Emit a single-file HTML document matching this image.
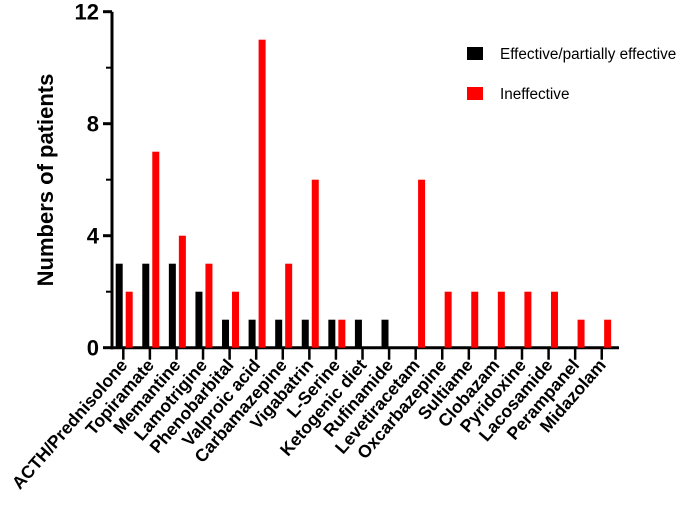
<!DOCTYPE html>
<html><head><meta charset="utf-8"><style>
body{margin:0;background:#fff;}
svg text{font-family:"Liberation Sans",Arial,sans-serif;}
</style></head><body>
<svg id="chart" width="685" height="500" viewBox="0 0 685 500" xmlns="http://www.w3.org/2000/svg">
<g id="plot"></g>
</svg>
<script>
const categories=["ACTH/Prednisolone","Topiramate","Memantine","Lamotrigine","Phenobarbital","Valproic acid","Carbamazepine","Vigabatrin","L-Serine","Ketogenic diet","Rufinamide","Levetiracetam","Oxcarbazepine","Sultiame","Clobazam","Pyridoxine","Lacosamide","Perampanel","Midazolam"];
const effective=[3,3,3,2,1,1,1,1,1,1,1,0,0,0,0,0,0,0,0];
const ineffective=[2,7,4,3,2,11,3,6,1,0,0,6,2,2,2,2,2,1,1];
const yTicks=[0,4,8,12];
const yMinor=[2,6,10];
const NS="http://www.w3.org/2000/svg";
const g=document.getElementById('plot');
const y0=347.7,yPer=28,x0=123.3,xStep=26.58;
const ys=v=>y0-v*yPer;
const xs=i=>x0+i*xStep;
function el(t,a){const e=document.createElementNS(NS,t);for(const k in a)e.setAttribute(k,a[k]);g.appendChild(e);return e;}
let e;
e=el('line',{x1:112,y1:ys(12),x2:112,y2:y0+1.5,stroke:'#000','stroke-width':3});


e=el('line',{x1:110.5,y1:y0,x2:619,y2:y0,stroke:'#000','stroke-width':3});


yTicks.forEach(v=>{
 e=el('line',{x1:103,y1:ys(v),x2:112,y2:ys(v),stroke:'#000','stroke-width':3});
 
 
 e=el('text',{x:99,y:ys(v)+8,'text-anchor':'end','font-size':22,'font-weight':'bold'});
 e.textContent=v;
 
 
});
yMinor.forEach(v=>{
 e=el('line',{x1:106,y1:ys(v),x2:112,y2:ys(v),stroke:'#000','stroke-width':2});
 
 
});
categories.forEach((c,i)=>{
 const x=xs(i);
 e=el('line',{x1:x,y1:y0,x2:x,y2:y0+12,stroke:'#000','stroke-width':2.5});
 
 
 if(effective[i]>0){
  e=el('rect',{x:x-7.6,y:ys(effective[i]),width:7,height:effective[i]*yPer,fill:'#000'});
  
  
 }
 if(ineffective[i]>0){
  e=el('rect',{x:x+2.4,y:ys(ineffective[i]),width:7,height:ineffective[i]*yPer,fill:'#ff0000'});
  
  
 }
 e=el('text',{x:x+5,y:y0+18,'text-anchor':'end','font-size':17.6,'font-weight':'bold',transform:`rotate(-49 ${x+5} ${y0+18})`});
 e.textContent=c;
 
 
});
e=el('text',{x:0,y:0,'text-anchor':'middle','font-size':22,'font-weight':'bold',transform:'translate(53 180) rotate(-90)'});
e.textContent='Numbers of patients';


e=el('rect',{x:467,y:47,width:16,height:13,fill:'#000'});


e=el('text',{x:500,y:59,'font-size':15.3});
e.textContent='Effective/partially effective';


e=el('rect',{x:467,y:87,width:16,height:13,fill:'#ff0000'});


e=el('text',{x:500,y:99,'font-size':15.3});
e.textContent='Ineffective';


</script>
</body></html>
